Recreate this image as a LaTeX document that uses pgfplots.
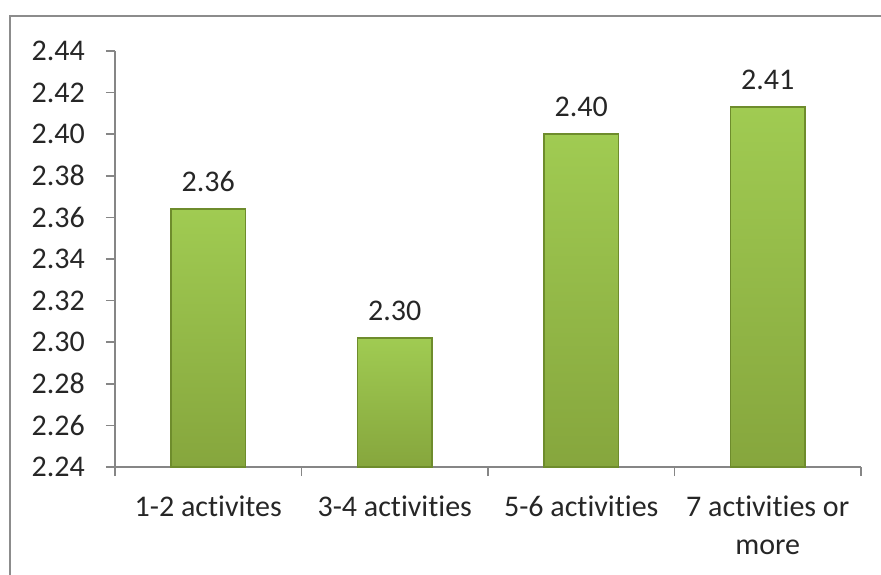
\documentclass[border=0pt]{standalone}
\usepackage{fontspec}
\setmainfont{Carlito}[Ligatures=NoCommon]
\usepackage{pgfplots}
\pgfplotsset{compat=1.18}
\definecolor{barEdge}{HTML}{6E8C2C}
\definecolor{barTop}{HTML}{A0CB52}
\definecolor{barBottom}{HTML}{86A63D}
\definecolor{axisGray}{HTML}{868686}
\definecolor{frameGray}{HTML}{8C8C8C}
\definecolor{txt}{HTML}{262626}
\pgfplotsset{greenbar/.style={ybar, bar width=0.4, bar shift=0pt,
  draw=barEdge, line width=1.6pt,
  top color=barTop, bottom color=barBottom}}

\begin{document}
\fontsize{30}{38}\selectfont
\begin{tikzpicture}
\useasboundingbox (0pt,0pt) rectangle (881pt,574pt);
% chart frame
\draw[frameGray, line width=2.5pt] (10pt,-5pt) -- (10pt,558pt) -- (890pt,558pt);
\begin{axis}[
  at={(115pt,107pt)}, anchor=south west,
  scale only axis, width=746pt, height=416pt,
  % bars grow from the baseline 2.24
  y coord trafo/.code={\pgfmathparse{#1-2.24}},
  y coord inv trafo/.code={\pgfmathparse{#1+2.24}},
  ymin=2.24, ymax=2.44,
  ytick={2.24,2.26,2.28,2.30,2.32,2.34,2.36,2.38,2.40,2.42,2.44},
  /pgf/number format/assume math mode=true,
  xmin=-0.5, xmax=3.5,
  xtick={-0.5,0.5,1.5,2.5,3.5},
  xticklabels={},
  extra x ticks={0,1,2,3},
  extra x tick labels={1-2 activites,3-4 activities,5-6 activities,7 activities or\\more},
  extra x tick style={major tick length=0pt},
  axis x line*=bottom, axis y line*=left,
  axis line style={axisGray, line width=1.5pt, -},
  tick style={axisGray, line width=1.5pt},
  tick align=outside,
  major tick length=9pt,
  yticklabel style={txt, inner sep=0pt, anchor=east, xshift=-21pt,
    /pgf/number format/fixed, /pgf/number format/fixed zerofill,
    /pgf/number format/precision=2},
  xticklabel style={txt, inner sep=0pt, anchor=north, align=center, yshift=-29pt},
  point meta=rawy,
  nodes near coords={\pgfmathprintnumber[fixed,fixed zerofill,precision=2]{\pgfplotspointmeta}},
  every node near coord/.append style={txt, anchor=south, inner sep=0pt, yshift=17pt},
  clip=false,
]
\addplot[greenbar] coordinates {(0,2.364)};
\addplot[greenbar] coordinates {(1,2.302)};
\addplot[greenbar] coordinates {(2,2.400)};
\addplot[greenbar] coordinates {(3,2.413)};
\end{axis}
\end{tikzpicture}
\end{document}
